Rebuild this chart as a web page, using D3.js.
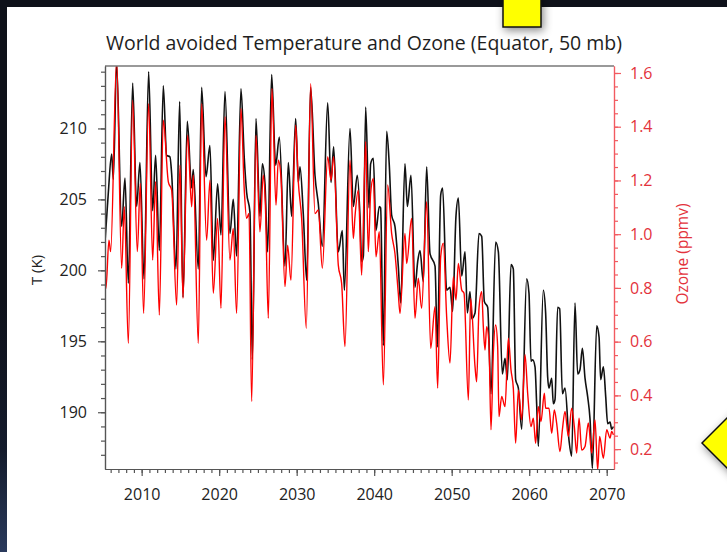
<!DOCTYPE html>
<html>
<head>
<meta charset="utf-8">
<script src="https://cdn.jsdelivr.net/npm/d3@7"></script>
<style>
  html, body { margin: 0; padding: 0; background: #0e111a; }
  svg { display: block; }
</style>
</head>
<body>
<svg id="chart"></svg>
<script>
// Temperature (black line): year, kelvin - at peaks / troughs
var tempYear = [2005.27,2005.69,2006.13,2006.34,2006.77,2007.42,2007.85,2008.28,2008.84,2009.35,2009.78,2010.30,2010.90,2011.42,2011.80,2012.28,2012.79,2013.22,2013.65,2013.87,2014.43,2014.90,2015.33,2015.89,2016.45,2016.66,2017.31,2017.74,2018.30,2018.81,2019.24,2019.80,2020.23,2020.75,
  2021.39,2021.82,2022.25,2022.81,2023.24,2023.54,2023.97,2024.28,2024.75,2025.26,2025.57,2025.91,2026.25,2026.77,2027.29,2027.76,2028.49,2028.92,2029.35,2029.87,2030.21,2030.43,2030.86,2031.29,2031.80,2032.36,2032.79,2033.31,2034.00,2034.43,2034.77,2035.37,2035.89,2036.15,2036.88,
  2037.31,2037.82,2038.17,2038.38,2038.60,2038.90,2039.33,2039.54,2039.89,2040.23,2040.66,2040.83,2041.18,2041.61,2041.95,2042.25,2042.68,2043.11,2043.42,2043.97,2044.28,2044.75,2045.26,2045.61,2045.91,2046.34,2046.77,2047.20,2047.85,2048.15,2048.58,2048.83,2049.35,2049.78,2050.12,2050.55,2050.86,2051.29,2051.72,2052.02,2052.36,2052.58,2053.01,
  2053.52,2053.87,2054.21,2054.64,2055.07,2055.67,2056.02,2056.53,2056.88,2057.18,2057.65,2057.95,2058.25,2058.60,2059.03,2059.67,2059.97,2060.23,2060.45,2060.75,2060.96,2061.18,2061.82,2062.12,2062.38,2062.55,2062.90,2063.11,2063.33,2063.67,2063.93,2064.28,2064.62,2065.14,2065.48,2065.91,2066.25,2066.55,2066.86,2067.20,2067.54,2067.85,2068.15,2068.71,2069.01,2069.22,2069.57,2069.87,2070.12,2070.43,2070.64,2070.86]
var tempK = [202.0,205.4,208.2,206.4,214.6,203.1,206.5,199.1,213.2,204.5,207.6,199.4,214.0,204.2,208.1,201.4,213.0,208.1,208.0,206.8,200.1,211.9,198.1,210.5,205.8,207.1,200.1,212.9,206.6,208.8,200.7,206.1,202.5,212.6,
  202.6,205.0,201.0,212.8,207.9,205.5,204.1,193.7,210.7,203.8,207.5,206.1,201.3,213.8,207.4,209.4,200.3,207.6,203.8,210.7,206.2,207.3,203.9,199.3,212.9,206.7,204.7,201.7,211.8,206.2,208.7,201.3,202.8,198.6,210.0,
  204.5,206.7,203.8,200.6,201.0,211.5,204.4,207.5,207.9,202.8,204.5,204.4,194.7,209.8,207.4,203.9,203.1,200.3,197.7,207.5,204.5,206.7,198.8,200.6,201.4,199.2,207.3,201.2,200.3,194.6,205.3,205.8,198.6,198.8,197.1,203.8,205.1,199.6,201.3,197.0,198.5,196.6,197.0,
  202.6,202.4,197.8,197.4,191.3,202.0,201.3,192.7,193.8,192.3,200.4,200.1,192.3,191.7,188.8,199.4,198.4,193.6,193.7,193.2,190.6,187.6,198.6,197.0,192.5,191.7,192.4,190.6,190.9,197.4,197.3,191.3,191.7,188.0,186.9,197.7,192.7,193.0,194.5,192.4,191.1,189.5,186.05,196.1,195.3,192.3,193.2,191.1,189.2,189.3,188.8,189.0]

// Ozone (red line): year, ppmv
var ozoneYear = [2005.05,2005.39,2005.78,2006.00,2006.77,2007.42,2007.76,2008.28,2008.84,2009.44,2009.82,2010.25,2010.90,2011.42,2011.80,2012.28,2012.79,2013.44,2013.87,2014.51,2014.94,2015.33,2015.93,2016.45,2016.66,2017.31,2017.74,2018.38,2018.81,2019.24,2019.80,2020.23,2020.75,
  2021.39,2021.82,2022.25,2022.81,2023.24,2023.54,2023.85,2024.19,2024.75,2025.26,2025.69,2025.95,2026.34,2026.81,2027.33,2027.63,2027.97,2028.49,2028.83,2029.26,2029.87,2030.21,2030.64,2031.24,2031.80,2032.36,2032.79,2033.31,2034.00,2034.43,2034.77,2035.37,2035.80,2036.23,2036.88,
  2037.31,2037.52,2037.95,2038.38,2038.90,2039.24,2039.54,2039.89,2040.23,2040.66,2041.18,2041.74,2042.25,2042.68,2043.11,2043.33,2043.97,2044.19,2044.83,2045.26,2045.69,2046.12,2046.77,2047.29,2047.85,2048.19,2048.58,2048.92,2049.35,2049.78,2050.21,2050.55,2050.86,2051.29,2051.59,2052.15,2052.45,
  2053.01,2053.22,2053.52,2053.87,2054.08,2054.30,2054.51,2054.81,2055.07,2055.37,2055.67,2055.93,2056.10,2056.45,2056.88,2057.31,2057.65,2057.95,2058.25,2058.60,2059.03,2059.46,2059.80,2060.23,2060.53,2060.83,2061.18,2061.52,2061.95,2062.12,2062.55,2062.90,2063.24,2063.54,2063.97,2064.28,2064.62,2065.05,2065.48,2065.82,2066.12,2066.43,2066.77,2067.20,2067.63,2068.06,2068.49,2068.83,2069.09,2069.57,2070.00,2070.43,2070.64,2070.86]
var ozonePpmv = [0.928,0.798,0.978,0.935,1.65,0.873,1.102,0.594,1.498,0.935,1.189,0.705,1.486,0.904,1.195,0.699,1.424,1.195,1.164,0.736,1.257,0.761,1.368,1.102,1.220,0.594,1.486,0.978,1.201,0.780,1.059,0.724,1.437,
  0.904,1.021,0.705,1.468,1.164,1.059,1.077,0.377,1.368,1.009,1.220,1.121,0.687,1.542,1.108,1.275,1.213,0.805,0.959,0.829,1.406,1.195,1.059,0.650,1.560,1.077,1.090,0.873,1.288,1.201,1.288,0.885,0.817,0.582,1.275,
  0.984,1.065,1.164,0.848,1.344,0.935,1.152,1.207,0.916,1.009,0.439,1.183,1.003,0.928,0.780,0.705,1.003,0.891,1.059,0.687,0.836,0.724,1.121,0.575,0.730,0.427,0.916,0.966,0.693,0.520,0.842,0.755,0.891,0.792,0.780,0.383,0.761,
  0.507,0.451,0.724,0.786,0.656,0.569,0.656,0.594,0.272,0.557,0.662,0.582,0.321,0.396,0.358,0.613,0.495,0.427,0.222,0.420,0.309,0.551,0.408,0.284,0.315,0.222,0.358,0.303,0.408,0.352,0.352,0.259,0.346,0.297,0.191,0.272,0.340,0.247,0.352,0.284,0.185,0.315,0.197,0.210,0.297,0.185,0.309,0.123,0.247,0.166,0.272,0.241,0.266,0.253]

var yearTicks = [2010, 2020, 2030, 2040, 2050, 2060, 2070]
var tempTicks = [190, 195, 200, 205, 210]
var ozoneTicks = [0.2, 0.4, 0.6, 0.8, 1.0, 1.2, 1.4, 1.6]

var W = 727, H = 552
var plotL = 105, plotR = 614, plotT = 66, plotB = 469
var font = "'Open Sans', 'DejaVu Sans', sans-serif"
var redAxis = "#f25a60", redText = "#e3323c"

var svg = d3.select("#chart").attr("width", W).attr("height", H)

// dark slide frame + white panel
var defs = svg.append("defs")
var grad = defs.append("linearGradient").attr("id", "edge").attr("x1", 0).attr("y1", 0).attr("x2", 0).attr("y2", 1)
grad.append("stop").attr("offset", "0%").attr("stop-color", "#0e111a")
grad.append("stop").attr("offset", "60%").attr("stop-color", "#141b2c")
grad.append("stop").attr("offset", "100%").attr("stop-color", "#2a3a5c")
var shadow = defs.append("filter").attr("id", "shadow").attr("x", "-50%").attr("y", "-50%").attr("width", "200%").attr("height", "200%")
shadow.append("feDropShadow").attr("dx", 2).attr("dy", 3).attr("stdDeviation", 4).attr("flood-color", "#000").attr("flood-opacity", 0.45)

svg.append("rect").attr("width", W).attr("height", H).attr("fill", "#0e111a")
svg.append("rect").attr("x", 0).attr("y", 300).attr("width", 7).attr("height", H - 300).attr("fill", "url(#edge)")
svg.append("rect").attr("x", 7).attr("y", 7).attr("width", W - 7).attr("height", H - 7).attr("fill", "#fff")

// yellow callout shapes from the slide
svg.append("rect").attr("x", 503).attr("y", -4).attr("width", 38).attr("height", 31)
  .attr("fill", "#ffff00").attr("stroke", "#111").attr("stroke-width", 1.5).attr("filter", "url(#shadow)")
svg.append("path").attr("d", "M702,443 L737,408 L772,443 L737,478 Z")
  .attr("fill", "#ffff00").attr("stroke", "#111").attr("stroke-width", 1.5).attr("filter", "url(#shadow)")

// scales
var x = d3.scaleLinear().domain([2005.27, 2070.94]).range([plotL, plotR])
var yT = d3.scaleLinear().domain([186, 214.4]).range([plotB, plotT])
var yO = d3.scaleLinear().domain([0.126, 1.626]).range([plotB, plotT])

// title
svg.append("text").attr("x", 364).attr("y", 50).attr("text-anchor", "middle")
  .attr("font-family", font).attr("font-size", 19.5).attr("fill", "#1e1e1e")
  .text("World avoided Temperature and Ozone (Equator, 50 mb)")

// lines
defs.append("clipPath").attr("id", "plot").append("rect")
  .attr("x", plotL).attr("y", plotT).attr("width", plotR - plotL).attr("height", plotB - plotT)

var tempData = tempYear.map(function(d, i) { return [d, tempK[i]] })
var ozoneData = ozoneYear.map(function(d, i) { return [d, ozonePpmv[i]] })

var lines = svg.append("g").attr("clip-path", "url(#plot)")
lines.append("path").datum(tempData)
  .attr("fill", "none").attr("stroke", "#111").attr("stroke-width", 1.6).attr("stroke-linejoin", "round")
  .attr("d", d3.line().x(d => x(d[0])).y(d => yT(d[1])).curve(d3.curveMonotoneX))
lines.append("path").datum(ozoneData)
  .attr("fill", "none").attr("stroke", "#ff0000").attr("stroke-width", 1.4).attr("stroke-linejoin", "round")
  .attr("d", d3.line().x(d => x(d[0])).y(d => yO(d[1])).curve(d3.curveMonotoneX))

// top border
svg.append("line").attr("x1", plotL).attr("x2", plotR).attr("y1", plotT).attr("y2", plotT)
  .attr("stroke", "#777").attr("stroke-width", 1.5)

function styleAxis(g, color, textColor) {
  g.selectAll("path, line").attr("stroke", color).attr("stroke-width", 1.2)
  g.selectAll("text").attr("fill", textColor).attr("font-family", font).attr("font-size", 16)
}

// minor ticks (every year / every kelvin / every 0.05 ppmv)
var minorYears = d3.range(2006, 2071)
var minorTemps = d3.range(187, 215)
var minorOz = d3.range(3, 33).map(d => d * 0.05)

svg.append("g").attr("transform", "translate(0," + plotB + ")")
  .call(d3.axisBottom(x).tickValues(minorYears).tickSize(4).tickFormat("").tickSizeOuter(0))
  .call(g => styleAxis(g, "#555", "#222"))
svg.append("g").attr("transform", "translate(0," + plotB + ")")
  .call(d3.axisBottom(x).tickValues(yearTicks).tickSize(7).tickPadding(13).tickFormat(d3.format("d")).tickSizeOuter(0))
  .call(g => styleAxis(g, "#555", "#222"))

svg.append("g").attr("transform", "translate(" + plotL + ",0)")
  .call(d3.axisLeft(yT).tickValues(minorTemps).tickSize(4).tickFormat("").tickSizeOuter(0))
  .call(g => styleAxis(g, "#555", "#222"))
svg.append("g").attr("transform", "translate(" + plotL + ",0)")
  .call(d3.axisLeft(yT).tickValues(tempTicks).tickSize(7).tickPadding(11).tickFormat(d3.format("d")).tickSizeOuter(0))
  .call(g => styleAxis(g, "#555", "#222"))

svg.append("g").attr("transform", "translate(" + plotR + ",0)")
  .call(d3.axisRight(yO).tickValues(minorOz).tickSize(4).tickFormat("").tickSizeOuter(0))
  .call(g => styleAxis(g, redAxis, redText))
svg.append("g").attr("transform", "translate(" + plotR + ",0)")
  .call(d3.axisRight(yO).tickValues(ozoneTicks).tickSize(7).tickPadding(9).tickFormat(d3.format(".1f")).tickSizeOuter(0))
  .call(g => styleAxis(g, redAxis, redText))

// axis titles
svg.append("text").attr("transform", "translate(42,270) rotate(-90)").attr("text-anchor", "middle")
  .attr("font-family", font).attr("font-size", 15).attr("fill", "#222").text("T (K)")
svg.append("text").attr("transform", "translate(688,254) rotate(-90)").attr("text-anchor", "middle")
  .attr("font-family", font).attr("font-size", 15.5).attr("fill", redText).text("Ozone (ppmv)")
</script>
</body>
</html>
